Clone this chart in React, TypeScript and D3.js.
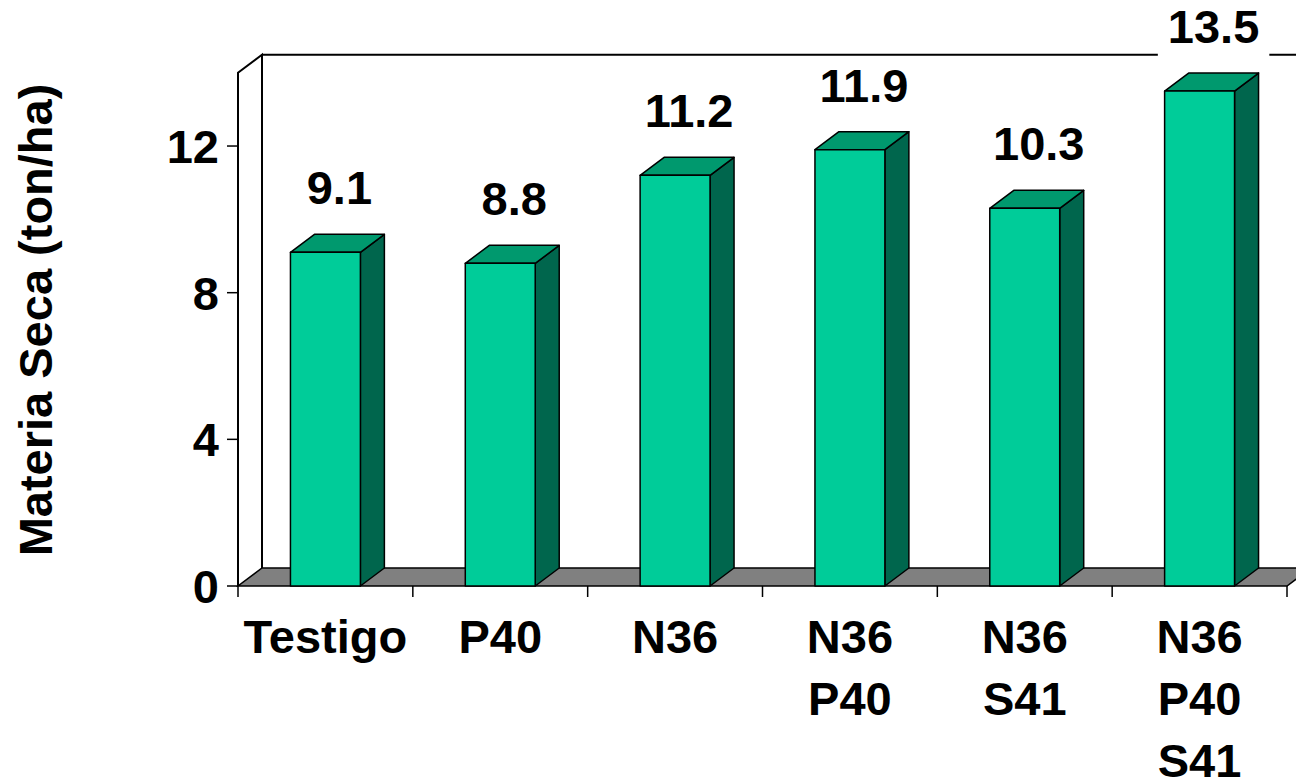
import React, { useRef, useEffect } from 'react';
import * as d3 from 'd3';

const categories = ["Testigo", "P40", "N36", "N36\nP40", "N36\nS41", "N36\nP40\nS41"];
const values = [9.1, 8.8, 11.2, 11.9, 10.3, 13.5];
const yTicks = [0, 4, 8, 12];
const yTitle = "Materia Seca (ton/ha)";

const FONT = "Arial, 'Liberation Sans', sans-serif";
const colors = { front: "#00CC99", top: "#00996E", side: "#00664D", floor: "#808080" };

const App = () => {
  const ref = useRef<SVGSVGElement>(null);

  useEffect(() => {
    const svg = d3.select(ref.current);
    svg.selectAll("*").remove();

    const left = 238, right = 1287, base = 586;
    const dx = 24, dy = 18; // profundidad 3D

    const x = d3.scaleBand<string>().domain(categories).range([left, right]).paddingInner(0.6).paddingOuter(0.3);
    const y = d3.scaleLinear().domain([0, 14]).range([base, base - 513.3]);
    const top = y(14);

    // piso
    svg.append("polygon")
      .attr("points", [[left, base], [right, base], [right + dx, base - dy], [left + dx, base - dy]].map(p => p.join(",")).join(" "))
      .attr("fill", colors.floor).attr("stroke", "black").attr("stroke-width", 1.5);

    // paredes
    const walls = svg.append("g").attr("stroke", "black").attr("stroke-width", 2).attr("fill", "none");
    walls.append("path").attr("d", `M${left},${base}V${top}L${left + dx},${top - dy}V${base - dy}`);
    walls.append("path").attr("d", `M${left + dx},${top - dy}H${right + dx}V${base - dy}`);

    // eje y
    yTicks.forEach(t => {
      svg.append("line").attr("x1", left - 11).attr("x2", left).attr("y1", y(t)).attr("y2", y(t))
        .attr("stroke", "black").attr("stroke-width", 1.5);
      svg.append("text").attr("x", 219).attr("y", y(t) + 17).attr("text-anchor", "end")
        .attr("font-family", FONT).attr("font-weight", "bold").attr("font-size", 47).text(t);
    });

    // eje x
    const step = x.step();
    d3.range(categories.length + 1).forEach(i => {
      const xx = left + i * step;
      svg.append("line").attr("x1", xx).attr("x2", xx).attr("y1", base).attr("y2", base + 11)
        .attr("stroke", "black").attr("stroke-width", 1.5);
    });
    categories.forEach(c => {
      const t = svg.append("text").attr("text-anchor", "middle")
        .attr("font-family", FONT).attr("font-weight", "bold").attr("font-size", 47);
      c.split("\n").forEach((line, i) => {
        t.append("tspan").attr("x", x(c)! + x.bandwidth() / 2).attr("y", base + 67 + i * 62).text(line);
      });
    });

    // barras
    const bars = svg.append("g").attr("stroke", "black").attr("stroke-width", 1.5).attr("stroke-linejoin", "round");
    categories.forEach((c, i) => {
      const x0 = x(c)!, w = x.bandwidth(), yt = y(values[i]);
      bars.append("polygon")
        .attr("points", [[x0 + w, yt], [x0 + w + dx, yt - dy], [x0 + w + dx, base - dy], [x0 + w, base]].map(p => p.join(",")).join(" "))
        .attr("fill", colors.side);
      bars.append("polygon")
        .attr("points", [[x0, yt], [x0 + w, yt], [x0 + w + dx, yt - dy], [x0 + dx, yt - dy]].map(p => p.join(",")).join(" "))
        .attr("fill", colors.top);
      bars.append("rect").attr("x", x0).attr("y", yt).attr("width", w).attr("height", base - yt)
        .attr("fill", colors.front);
    });

    // etiquetas
    categories.forEach((c, i) => {
      const cx = x(c)! + x.bandwidth() / 2 + 14;
      const by = y(values[i]) - 48;
      const g = svg.append("g");
      const rect = g.append("rect").attr("fill", "white");
      const t = g.append("text").attr("x", cx).attr("y", by).attr("text-anchor", "middle")
        .attr("font-family", FONT).attr("font-weight", "bold").attr("font-size", 47).text(values[i].toFixed(1));
      const w = (t.node() as SVGTextElement).getComputedTextLength();
      rect.attr("x", cx - w / 2 - 10).attr("y", by - 44).attr("width", w + 20).attr("height", 70);
    });

    // titulo y
    svg.append("text").attr("transform", `translate(52,320) rotate(-90)`).attr("text-anchor", "middle")
      .attr("font-family", FONT).attr("font-weight", "bold").attr("font-size", 47).text(yTitle);
  }, []);

  return (
    <svg ref={ref} width={1296} height={779} style={{ position: "absolute", left: 0, top: 0, background: "white" }}></svg>
  );
};

export default App;
